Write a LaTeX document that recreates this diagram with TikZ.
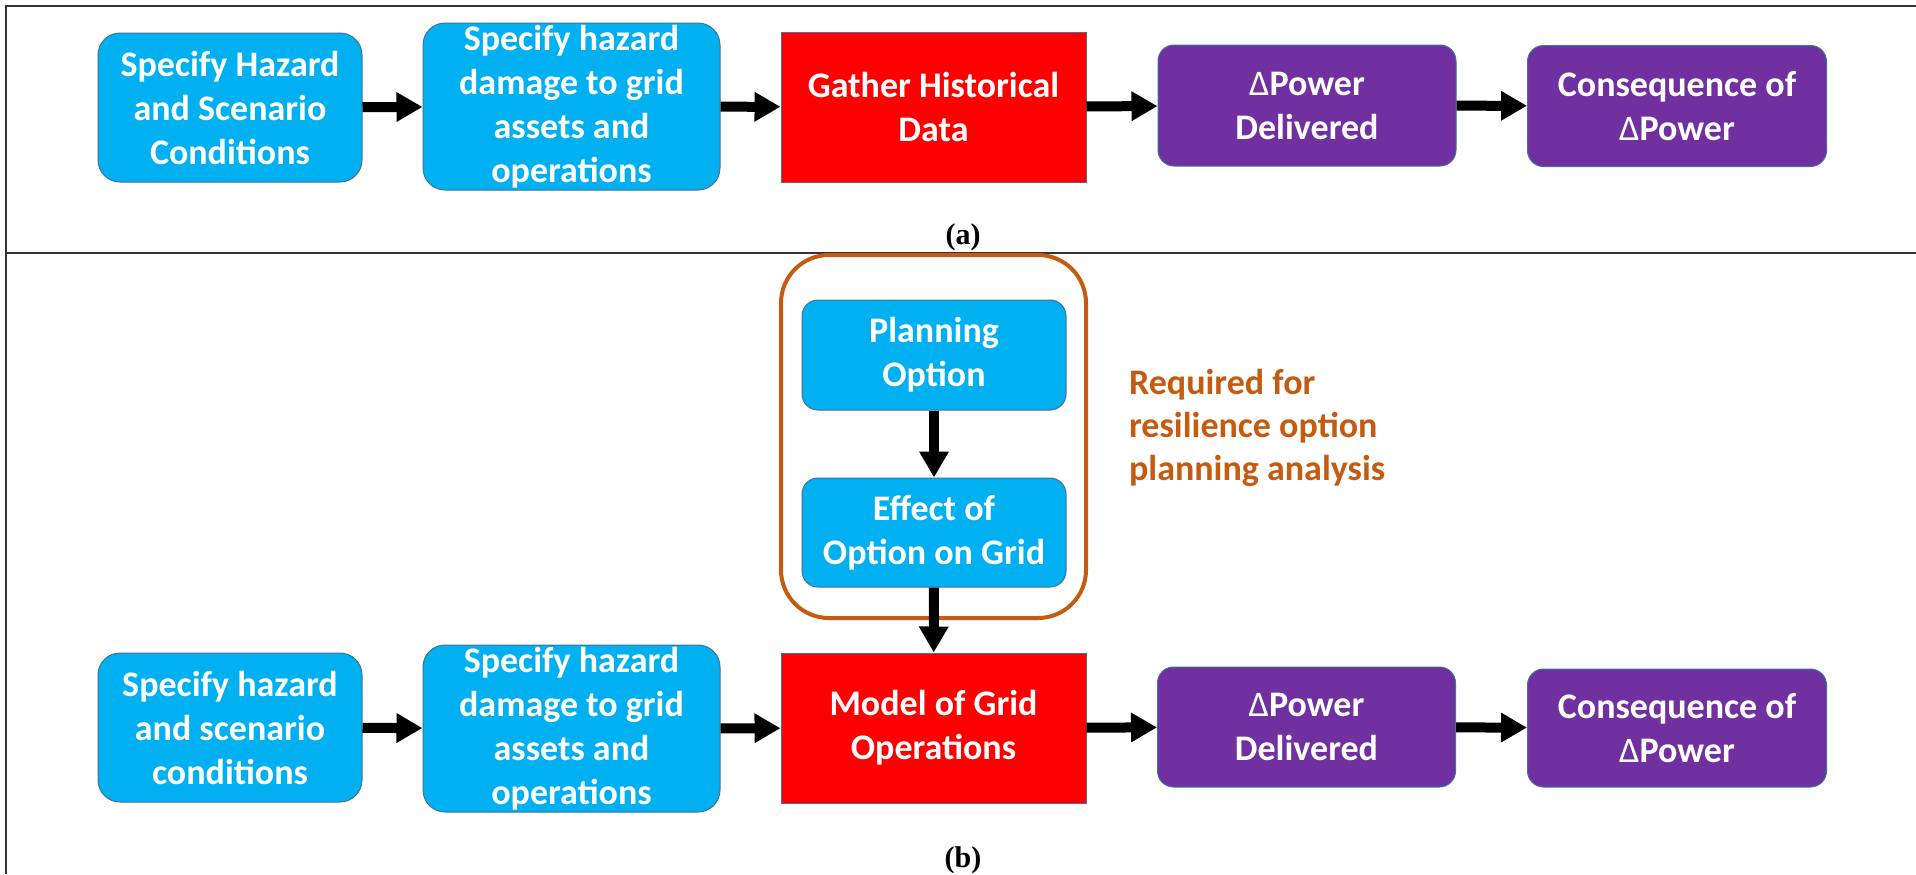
\documentclass[tikz,border=0pt]{standalone}
\usepackage{fontspec}
\setmainfont{Carlito}
\newfontfamily\labelfont{Liberation Serif}
\usetikzlibrary{arrows.meta}
\definecolor{boxblue}{HTML}{00B0F0}
\definecolor{boxred}{HTML}{FF0000}
\definecolor{boxpurple}{HTML}{7030A0}
\definecolor{edgeblue}{HTML}{41719C}
\definecolor{optorange}{HTML}{C55A11}
\definecolor{framegray}{HTML}{333333}
\tikzstyle{stage} = [draw=edgeblue, line width=0.5pt, text=white, align=center,
    font=\fontsize{18}{22}\selectfont\bfseries, inner sep=0pt]
\tikzstyle{bluebox} = [stage, fill=boxblue, rounded corners=11pt]
\tikzstyle{redbox} = [stage, fill=boxred]
\tikzstyle{purplebox} = [stage, fill=boxpurple, rounded corners=8pt]
\tikzstyle{optframe} = [draw=optorange, line width=2pt, rounded corners=24pt]
\tikzstyle{flowarrow} = [line width=5pt, -{Triangle[length=13pt,width=14pt]}]
\tikzstyle{sublabel} = [font=\labelfont\fontsize{15}{18}\selectfont\bfseries]
\newcommand{\dpow}{{\mdseries Δ}Power}

\begin{document}
\begin{tikzpicture}[x=0.5pt, y=-0.5pt]
\useasboundingbox (0,0) rectangle (1916,874);
% table frame
\draw[framegray, line width=1pt] (1916,6) -- (6,6) -- (6,874);
\draw[framegray, line width=1pt] (6,253) -- (1916,253);

% (a) historical chain
\node[bluebox, minimum width=132pt, minimum height=74.5pt] (hazA) at (230,107.5)
    {Specify Hazard\\and Scenario\\Conditions};
\node[bluebox, minimum width=148.5pt, minimum height=83.5pt] (dmgA) at (571.5,106.5)
    {Specify hazard\\damage to grid\\assets and\\operations};
\node[redbox, minimum width=152.5pt, minimum height=75pt] (hist) at (933.5,107)
    {Gather Historical\\Data};
\node[purplebox, minimum width=149pt, minimum height=60.5pt] (powA) at (1307,105.5)
    {\dpow\\Delivered};
\node[purplebox, minimum width=149.5pt, minimum height=60.5pt] (consA) at (1677,106)
    {Consequence of\\\dpow};
\node[sublabel] (capA) at (963,237) {(a)};

% (b) planning chain
\node[optframe, minimum width=152.5pt, minimum height=181.5pt] (optbox) at (933.5,436.5) {};
\node[bluebox, rounded corners=8pt, minimum width=132pt, minimum height=55pt] (plan) at (934,355)
    {Planning\\Option};
\node[bluebox, rounded corners=8pt, minimum width=132pt, minimum height=54.5pt] (effect) at (934,532.5)
    {Effect of\\Option on Grid};
\node[text=optorange, align=left, anchor=west, font=\fontsize{18}{21.5}\selectfont\bfseries]
    (req) at (1122,428) {Required for\\resilience option\\planning analysis};

\node[bluebox, minimum width=132pt, minimum height=74.5pt] (hazB) at (230,727.5)
    {Specify hazard\\and scenario\\conditions};
\node[bluebox, minimum width=148.5pt, minimum height=83.5pt] (dmgB) at (571.5,728.5)
    {Specify hazard\\damage to grid\\assets and\\operations};
\node[redbox, minimum width=152.5pt, minimum height=75pt] (model) at (933.5,728)
    {Model of Grid\\Operations};
\node[purplebox, minimum width=149pt, minimum height=60pt] (powB) at (1306.5,727)
    {\dpow\\Delivered};
\node[purplebox, minimum width=149.5pt, minimum height=59pt] (consB) at (1677,728)
    {Consequence of\\\dpow};
\node[sublabel] (capB) at (963,860) {(b)};

% arrows
\draw[flowarrow] (hazA) -- (dmgA);
\draw[flowarrow] (dmgA) -- (hist);
\draw[flowarrow] (hist) -- (powA);
\draw[flowarrow] (powA) -- (consA);
\draw[flowarrow] (plan) -- (effect);
\draw[flowarrow] (effect) -- (model);
\draw[flowarrow] (hazB) -- (dmgB);
\draw[flowarrow] (dmgB) -- (model);
\draw[flowarrow] (model) -- (powB);
\draw[flowarrow] (powB) -- (consB);
\end{tikzpicture}
\end{document}
